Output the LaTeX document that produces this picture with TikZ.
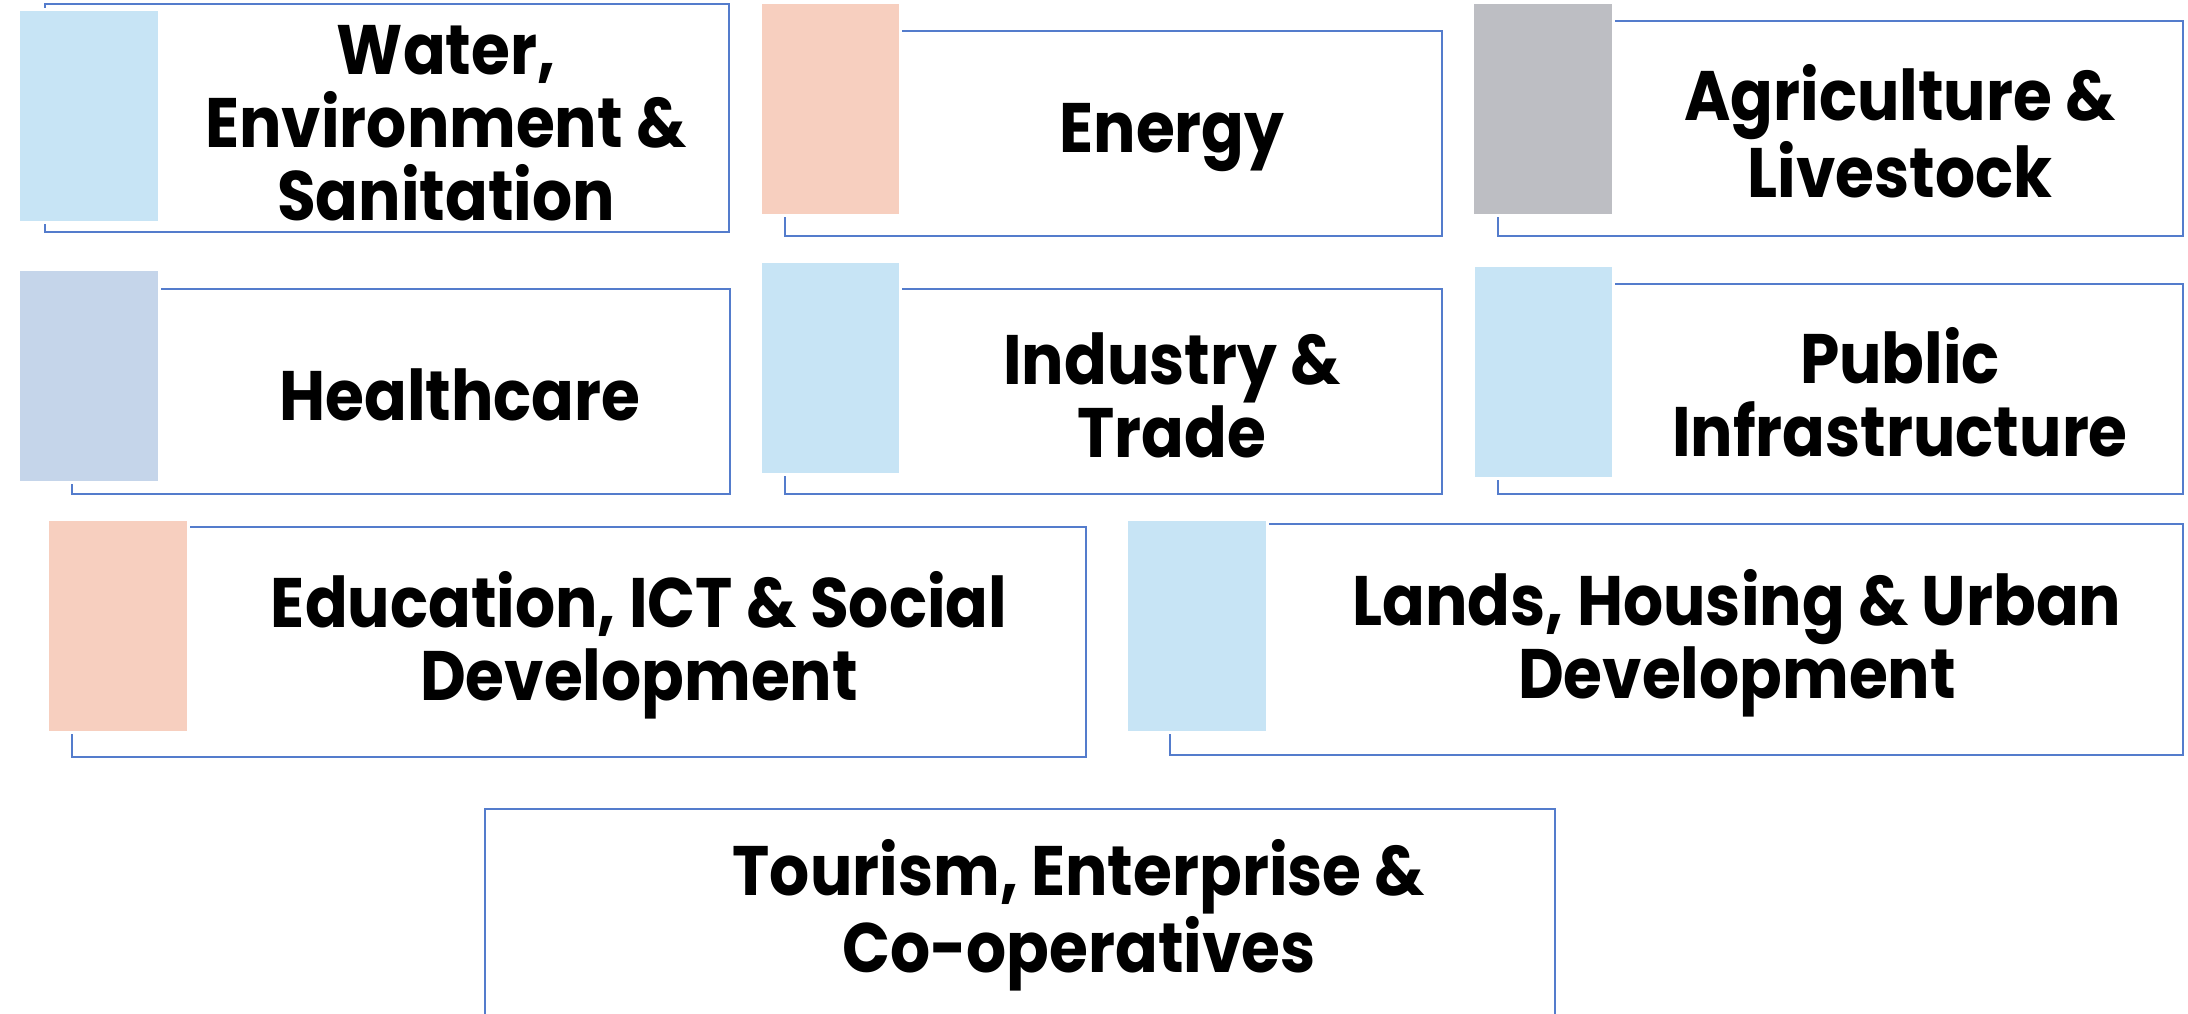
\documentclass[tikz,border=0pt]{standalone}
\usepackage{fontspec}
\setmainfont{Poppins}[FakeStretch=0.9]
\usetikzlibrary{fit}
\definecolor{lblue}{HTML}{C7E4F5}
\definecolor{hblue}{HTML}{C5D5EA}
\definecolor{peach}{HTML}{F7CFBF}
\definecolor{lgray}{HTML}{BDBEC3}
\definecolor{frameblue}{RGB}{84,124,204}
\tikzset{
  framebox/.style={draw=frameblue, line width=0.6pt, inner sep=0pt, rectangle},
  tabbox/.style={draw=white, line width=1.5pt, inner sep=0pt, rectangle, fill=#1},
  label/.style={align=center, inner sep=0pt, yshift=-2pt, font=\fontsize{35}{36.5}\selectfont\bfseries},
}
\newcommand{\sectorbox}[6]{%
  % #1 name, #2 frame corners, #3 tab corners, #4 colour, #5 text position, #6 text
  \node[framebox, fit={#2}] (#1f) {};
  \node[tabbox=#4, fit={#3}] (#1t) {};
  \node[label] (#1) at (#5) {#6};
}
\begin{document}
\begin{tikzpicture}[x=0.5pt, y=-0.5pt]
\useasboundingbox[fill=white] (0,0) rectangle (2188,1013);
% row 1
\sectorbox{water}{(45,4) (729,232)}{(18,9) (159,222)}{lblue}{446,119}{Water,\\Environment \&\\Sanitation}
\sectorbox{energy}{(785,31) (1442,236)}{(760,2) (900,215)}{peach}{1172,134}{Energy}
\sectorbox{agri}{(1498,21) (2183,236)}{(1472,2) (1613,215)}{lgray}{1900,127}{Agriculture \&\\Livestock}
% row 2
\sectorbox{health}{(72,289) (730,494)}{(18,269) (159,482)}{hblue}{460,391}{Healthcare}
\sectorbox{industry}{(785,289) (1442,494)}{(760,261) (900,474)}{lblue}{1172,391}{Industry \&\\Trade}
\sectorbox{public}{(1498,284) (2183,494)}{(1473,265) (1613,478)}{lblue}{1900,388}{Public\\Infrastructure}
% row 3
\sectorbox{edu}{(72,527) (1086,757)}{(47,519) (188,732)}{peach}{639,641}{Education, ICT \& Social\\Development}
\sectorbox{lands}{(1170,524) (2183,755)}{(1126,519) (1267,732)}{lblue}{1737,639}{Lands, Housing \& Urban\\Development}
% row 4
\node[framebox, fit={(485,809) (1555,1030)}] (tourismf) {};
\node[label] (tourism) at (1079,911) {Tourism, Enterprise \&\\Co-operatives};
\end{tikzpicture}
\end{document}
